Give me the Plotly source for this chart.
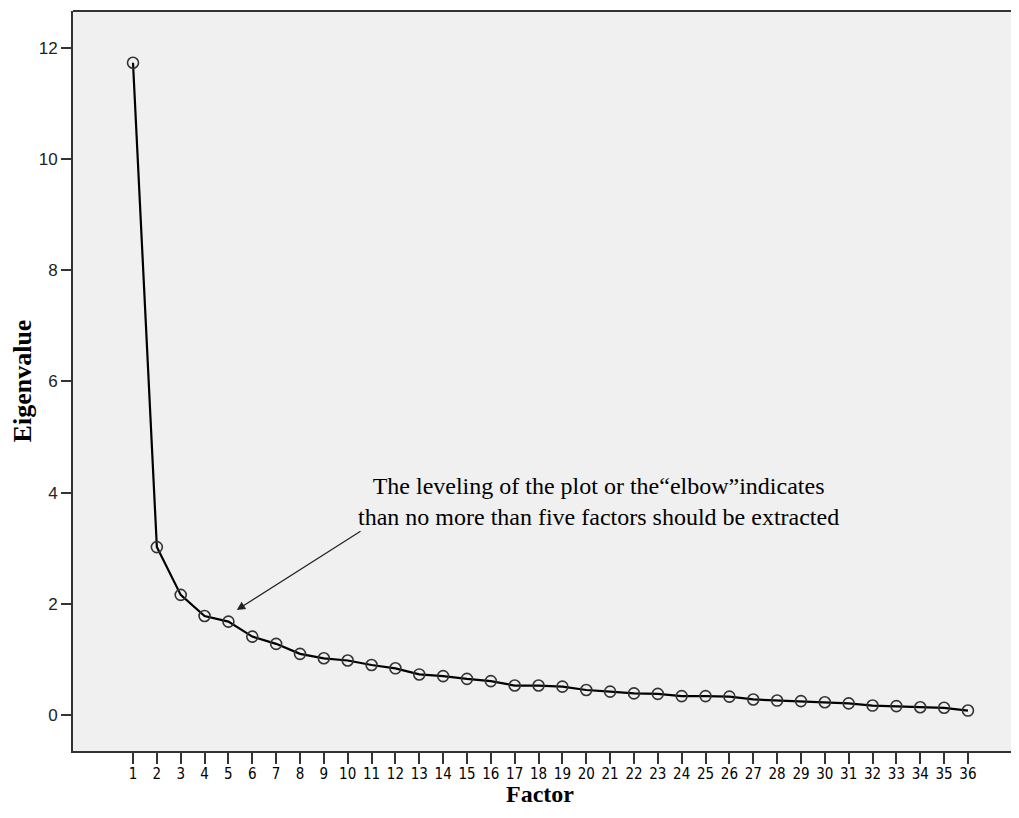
import plotly.graph_objects as go

factors = list(range(1, 37))
eigenvalues = [11.73, 3.02, 2.16, 1.78, 1.68, 1.41, 1.28, 1.10, 1.02, 0.98,
               0.90, 0.84, 0.73, 0.70, 0.65, 0.61, 0.53, 0.53, 0.51, 0.45,
               0.42, 0.39, 0.38, 0.34, 0.34, 0.33, 0.28, 0.26, 0.25, 0.23,
               0.21, 0.17, 0.16, 0.14, 0.13, 0.08]
y_ticks = [0, 2, 4, 6, 8, 10, 12]
note_lines = ["The leveling of the plot or the\u201celbow\u201dindicates",
              "than no more than five factors should be extracted"]
x_title = "Factor"
y_title = "Eigenvalue"

SERIF = "Liberation Serif, Times New Roman, serif"

fig = go.Figure()
fig.add_trace(go.Scatter(
    x=factors, y=eigenvalues, mode="lines+markers",
    line=dict(color="black", width=2.2),
    marker=dict(symbol="circle-open", size=11, color="#333333", line=dict(width=1.6)),
    showlegend=False, hoverinfo="skip",
))

fig.add_annotation(
    x=20.53, y=3.84, xref="x", yref="y",
    text="<br>".join(note_lines), showarrow=False,
    font=dict(family=SERIF, size=24, color="black"),
    align="center",
)
fig.add_annotation(
    x=5.35, y=1.89, ax=10.6, ay=3.32, xref="x", yref="y", axref="x", ayref="y",
    text="", showarrow=True, arrowhead=2, arrowsize=1.4, arrowwidth=1.2, arrowcolor="#222222",
)
# x-axis title as annotation for exact placement
fig.add_annotation(
    x=0.4937, y=-0.058, xref="paper", yref="paper", xanchor="center", yanchor="middle",
    text="<b>" + x_title + "</b>", showarrow=False,
    font=dict(family=SERIF, size=24, color="black"),
)

fig.update_layout(
    width=1011, height=802,
    margin=dict(l=65, r=0, t=3, b=59),
    paper_bgcolor="white", plot_bgcolor="#F0F0F0",
)
fig.update_xaxes(
    range=[-1.515, 38.14], tickmode="array", tickvals=factors,
    ticktext=[str(f) for f in factors], automargin=False,
    ticks="outside", ticklen=11, tickwidth=2, tickcolor="#333333",
    ticklabelstandoff=-3,
    tickfont=dict(family="DejaVu Sans Condensed, Liberation Sans Narrow, sans-serif", size=15, color="black"),
    showline=True, linecolor="#333333", linewidth=2, mirror=False,
    showgrid=False, zeroline=False,
)
fig.update_yaxes(
    range=[-0.647, 12.66], tickmode="array", tickvals=y_ticks, automargin=False,
    ticks="outside", ticklen=10, tickwidth=2, tickcolor="#333333",
    tickfont=dict(family="Liberation Sans, Arial, sans-serif", size=17, color="#222222"),
    showline=True, linecolor="#333333", linewidth=2, mirror=False,
    showgrid=False, zeroline=False,
    title=dict(text="<b>" + y_title + "</b>", standoff=6,
               font=dict(family=SERIF, size=26, color="black")),
)
# top border line
fig.add_shape(type="line", xref="paper", yref="paper", x0=0, x1=1, y0=1, y1=1,
              line=dict(color="#333333", width=2))

fig.write_html("out.html")
